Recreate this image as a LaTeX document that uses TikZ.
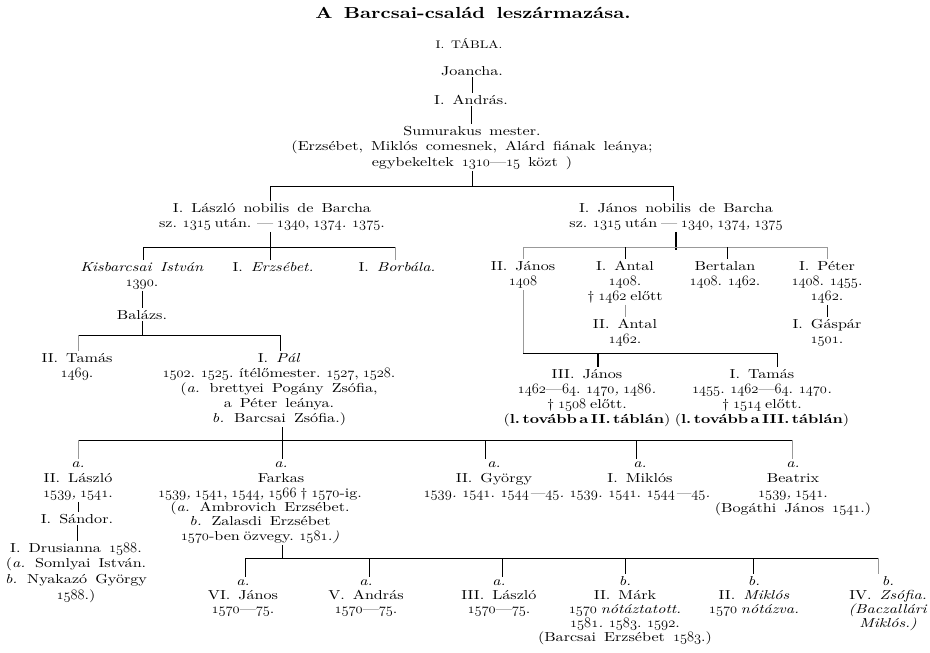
\documentclass[tikz,border=0pt]{standalone}
\usepackage{fontspec}
\setmainfont{lmroman10-regular.otf}[BoldFont=lmroman10-bold.otf, ItalicFont=lmroman10-italic.otf, BoldItalicFont=lmroman10-bolditalic.otf, FakeStretch=1.24, WordSpace=1.5]
\newcommand\yr[1]{{\fontsize{14.4}{15}\usefont{OML}{cmm}{m}{it}#1}}
\newcommand\bsp{\hspace{2.5pt}}
\newcommand\ty{\spaceskip=3.8pt plus 1pt\relax}
\tikzset{
  pers/.style={align=center, inner sep=0pt, outer sep=2pt, anchor=base, font=\fontsize{13}{15}\selectfont},
  persb/.style={pers, font=\fontsize{13}{14.2}\selectfont},
  titlef/.style={inner sep=0pt, anchor=base, font=\fontsize{16}{18}\selectfont\bfseries},
  ln/.style={line width=0.6pt},
  faint/.style={line width=0.5pt, black!40},
  tk/.style={line width=1.3pt}
}
\begin{document}
\begin{tikzpicture}[x=1pt,y=-1pt]
\useasboundingbox (0,0) rectangle (930,653);
\fill[white] (0,0) rectangle (930,653);

% ---------- text (y = baseline of the LAST line) ----------
\node[titlef] (title) at (473,19) {A Barcsai-család leszármazása.};
\node[pers, font=\fontsize{11}{13}\selectfont] (tabla) at (469,48) {I. TÁBLA.};
\node[pers] (joancha) at (472,75) {Joancha.};
\node[pers] (andras) at (471,104) {I. András.};
\node[pers, font=\fontsize{13}{15.5}\selectfont] (sumu) at (472,166) {Sumurakus mester.\\(Erzsébet, Miklós comesnek, Alárd fiának leánya;\\egybekeltek \yr{1310}—\yr{15} közt )};

\node[pers] (laszlo1) at (272,227) {I. László nobilis de Barcha\\{\ty sz. \yr{1315} után. — \yr{1340}, \textit{\yr{1374}.} \yr{1375}.}};
\node[pers] (janos1) at (676,227) {I. János nobilis de Barcha\\{\ty sz. \yr{1315} után — \yr{1340}, \textit{\yr{1374},} \yr{1375}}};

\node[pers] (istvan) at (142,286) {\textit{Kisbarcsai István}\\\yr{1390}.};
\node[pers] (erzs) at (273,271) {I. \textit{Erzsébet.}};
\node[pers] (borb) at (397,271) {I. \textit{Borbála.}};
\node[pers] (balazs) at (142,319) {Balázs.};

\node[pers] (janos2) at (523,285) {II. János\\\yr{1408}};
\node[pers] (antal1) at (625,300) {I. Antal\\\yr{1408}.\\{\ty † \yr{1462} előtt}};
\node[pers] (bertalan) at (725,285) {Bertalan\\{\ty\yr{1408}. \yr{1462}.}};
\node[pers] (peter) at (827,300) {I. Péter\\{\ty\yr{1408}. \yr{1455}.}\\\yr{1462}.};
\node[pers] (antal2) at (625,343) {II. Antal\\\yr{1462}.};
\node[pers] (gaspar) at (827,343) {I. Gáspár\\\yr{1501}.};

\node[pers] (tamas2) at (77,377) {II. Tamás\\\yr{1469}.};
\node[pers] (pal) at (279,422) {I. \textit{Pál}\\{\ty\yr{1502}. \yr{1525}. ítélőmester. \yr{1527}, \yr{1528}.}\\(\textit{a.} brettyei Pogány Zsófia,\\a Péter leánya.\\\textit{b.} Barcsai Zsófia.)};

\node[pers] (janos3) at (587,423) {III. János\\{\ty\yr{1462}—\yr{64}. \textit{\yr{1470}, \yr{1486}.}}\\{\ty † \yr{1508} előtt.}\\({\bfseries l.\bsp tovább\bsp a\bsp II.\bsp táblán})};
\node[pers] (tamas1) at (762,423) {I. Tamás\\{\ty\yr{1455}. \yr{1462}—\yr{64}. \textit{\yr{1470}.}}\\{\ty † \yr{1514} előtt.}\\({\bfseries l.\bsp tovább\bsp a\bsp III.\bsp táblán})};

\node[pers] (laszlo2) at (78,497) {\textit{a.}\\II. László\\{\ty\textit{\yr{1539},} \yr{1541}.}};
\node[pers] (sandor) at (77,523) {I. Sándor.};
\node[pers, font=\fontsize{13}{15.6}\selectfont] (drus) at (76,599) {I. Drusianna \yr{1588}.\\(\textit{a.} Somlyai István.\\\textit{b.} Nyakazó György\\\yr{1588}.)};

\node[pers] (farkas) at (281,482) {\textit{a.}\\Farkas};
\node[pers, font=\fontsize{13}{14.2}\selectfont] (farkasd) at (260,540) {{\ty\textit{\yr{1539},} \yr{1541}, \textit{\yr{1544}, \yr{1566}} † \yr{1570}-ig.}\\(\textit{a.} Ambrovich Erzsébet.\\\textit{b.} Zalasdi Erzsébet\\{\ty\yr{1570}-ben özvegy. \textit{\yr{1581}.)}}};
\node[pers] (gyorgy) at (494,497) {\textit{a.}\\II. György\\{\ty\textit{\yr{1539}.} \yr{1541}. \textit{\yr{1544}—\yr{45}.}}};
\node[pers] (miklos1) at (640,497) {\textit{a.}\\I. Miklós\\{\ty\textit{\yr{1539}.} \yr{1541}. \textit{\yr{1544}—\yr{45}.}}};
\node[pers] (beatrix) at (793,512) {\textit{a.}\\Beatrix\\{\ty\textit{\yr{1539},} \yr{1541}.}\\(Bogáthi János \yr{1541}.)};

\node[persb] (janos6) at (243,613.4) {\textit{a.}\\VI. János\\\yr{1570}—\yr{75}.};
\node[persb] (andras5) at (366,613.4) {\textit{a.}\\V. András\\\yr{1570}—\yr{75}.};
\node[persb] (laszlo3) at (499,613.4) {\textit{a.}\\III. László\\\yr{1570}—\yr{75}.};
\node[persb] (mark) at (625,641.8) {\textit{b.}\\II. Márk\\{\ty\textit{\yr{1570} nótáztatott.}}\\{\ty\textit{\yr{1581}.} \yr{1583}. \yr{1592}.}\\(Barcsai Erzsébet \yr{1583}.)};
\node[persb] (miklos2) at (754,613.4) {\textit{b.}\\II. \textit{Miklós}\\{\ty\textit{\yr{1570} nótázva.}}};
\node[persb] (zsofia) at (888,627.6) {\textit{b.}\\IV. \textit{Zsófia.}\\\textit{(Baczallári}\\\textit{Miklós.)}};

% ---------- connectors ----------
\draw[ln] (joancha.south) -- (joancha.south |- andras.north);
\draw[ln] (andras.south) -- (andras.south |- sumu.north);

\coordinate (b1l) at (270,186); \coordinate (b1r) at (673,186);
\draw[ln] (sumu.south) -- (sumu.south |- b1l);
\draw[ln] (b1l) -- (b1r);
\draw[ln] (b1l) -- (b1l |- laszlo1.north);
\draw[ln] (b1r) -- (b1r |- janos1.north);

\coordinate (b2l) at (143,247); \coordinate (b2m) at (270,247); \coordinate (b2r) at (395,247);
\draw[ln] (b2m |- laszlo1.south) -- (b2m);
\draw[ln] (b2l) -- (b2r);
\draw[ln] (b2l) -- (b2l |- istvan.north);
\draw[ln] (b2m) -- (b2m |- erzs.north);
\draw[faint] (b2r) -- (b2r |- borb.north);
\draw[ln] (istvan.south) -- (istvan.south |- balazs.north);

\coordinate (b4l) at (78,335); \coordinate (b4m) at (142,335); \coordinate (b4r) at (280,335);
\draw[ln] (balazs.south) -- (b4m);
\draw[ln] (b4l) -- (b4r);
\draw[faint] (b4l) -- (b4l |- tamas2.north);
\draw[ln] (b4r) -- (b4r |- pal.north);

\coordinate (b3l) at (523,247); \coordinate (b3a) at (625,247); \coordinate (b3m) at (676,247);
\coordinate (b3b) at (727,247); \coordinate (b3r) at (827,247);
\draw[tk] (b3m |- janos1.south) -- ([yshift=-3pt]b3m);
\draw[faint] (b3l) -- (b3r);
\draw[faint] (b3l) -- (b3l |- janos2.north);
\draw[ln] (b3a) -- (b3a |- antal1.north);
\draw[ln] (b3b) -- (b3b |- bertalan.north);
\draw[faint] (b3r) -- (b3r |- peter.north);
\draw[faint] (antal1.south) -- (antal1.south |- antal2.north);
\draw[ln] (peter.south) -- (peter.south |- gaspar.north);

\coordinate (b5l) at (523,353); \coordinate (b5a) at (598,353); \coordinate (b5r) at (777,353);
\draw[faint] (b5l |- janos2.south) -- (b5l);
\draw[ln] (b5l) -- (b5r);
\draw[tk] (b5a) -- (b5a |- janos3.north);
\draw[ln] (b5r) -- (b5r |- tamas1.north);

\coordinate (b6l) at (78,440); \coordinate (b6b) at (282,440); \coordinate (b6c) at (485,440);
\coordinate (b6d) at (636,440); \coordinate (b6r) at (792,440);
\draw[ln] (b6b |- pal.south) -- (b6b);
\draw[ln] (b6l) -- (b6r);
\draw[faint] (b6l) -- (b6l |- laszlo2.north);
\draw[ln] (b6b) -- (b6b |- farkas.north);
\draw[ln] (b6c) -- (b6c |- gyorgy.north);
\draw[ln] (b6d) -- (b6d |- miklos1.north);
\draw[faint] (b6r) -- (b6r |- beatrix.north);
\draw[ln] (laszlo2.south) -- (laszlo2.south |- sandor.north);
\draw[ln] (sandor.south) -- (sandor.south |- drus.north);

\coordinate (b7f) at (282,558);
\coordinate (b7a) at (245,558); \coordinate (b7b) at (369,558); \coordinate (b7c) at (502,558);
\coordinate (b7d) at (625,558); \coordinate (b7e) at (753,558); \coordinate (b7g) at (878,558);
\draw[ln] (b7f |- farkasd.south) -- (b7f);
\draw[ln] (b7a) -- (b7g);
\draw[ln] (b7a) -- (b7a |- janos6.north);
\draw[ln] (b7b) -- (b7b |- andras5.north);
\draw[ln] (b7c) -- (b7c |- laszlo3.north);
\draw[ln] (b7d) -- (b7d |- mark.north);
\draw[ln] (b7e) -- (b7e |- miklos2.north);
\draw[faint] (b7g) -- (b7g |- zsofia.north);
\end{tikzpicture}
\end{document}
